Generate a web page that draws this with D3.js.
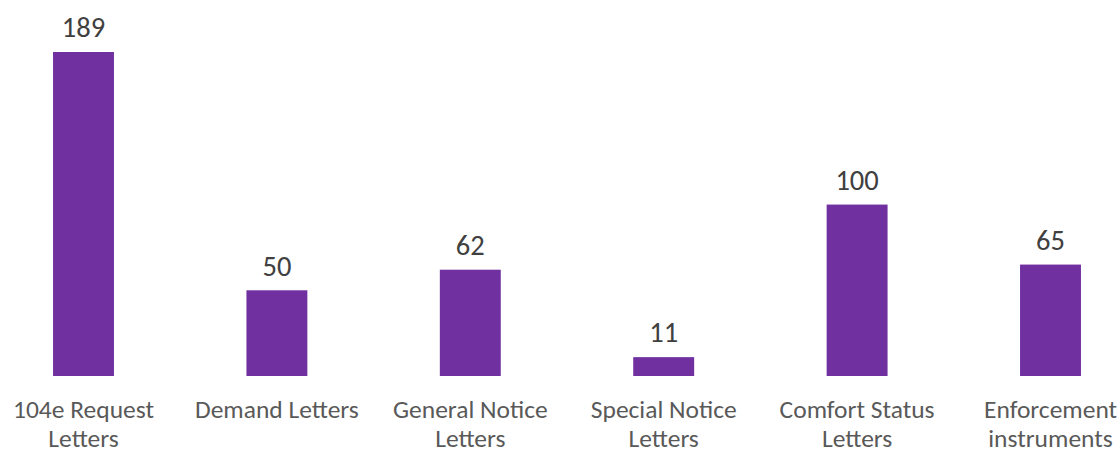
<!DOCTYPE html>
<html>
<head>
<meta charset="utf-8">
<script src="https://cdn.jsdelivr.net/npm/d3@7"></script>
<style>
  html, body { margin: 0; padding: 0; background: #fff; }
  svg { display: block; }
  text { font-family: Carlito, Calibri, "Open Sans", sans-serif; }
</style>
</head>
<body>
<svg id="chart" width="1118" height="451"></svg>
<script>
// Enforcement actions by type
const categories = [
  "104e Request Letters",
  "Demand Letters",
  "General Notice Letters",
  "Special Notice Letters",
  "Comfort Status Letters",
  "Enforcement instruments"
];
// Category labels as drawn, one entry per line
const tickLabels = [
  ["104e Request", "Letters"],
  ["Demand Letters"],
  ["General Notice", "Letters"],
  ["Special Notice", "Letters"],
  ["Comfort Status", "Letters"],
  ["Enforcement", "instruments"]
];
const counts = [189, 50, 62, 11, 100, 65];

const svg = d3.select("#chart");
const baseline = 376;

const x = d3.scaleBand()
  .domain(categories)
  .range([-13.2, 1147.2])
  .paddingInner(0.685)
  .paddingOuter(0.3425);

const y = d3.scaleLinear()
  .domain([0, 189])
  .range([baseline, 52]);

const bars = svg.append("g");
bars.selectAll("rect")
  .data(categories)
  .join("rect")
  .attr("x", d => x(d))
  .attr("width", x.bandwidth())
  .attr("y", (d, i) => y(counts[i]))
  .attr("height", (d, i) => baseline - y(counts[i]))
  .attr("fill", "#7030A0");

// Value labels above each bar
bars.selectAll("text.value")
  .data(categories)
  .join("text")
  .attr("class", "value")
  .attr("x", d => x(d) + x.bandwidth() / 2)
  .attr("y", (d, i) => y(counts[i]) - 14.7)
  .attr("text-anchor", "middle")
  .attr("font-size", 28.5)
  .attr("fill", "#404040")
  .text((d, i) => counts[i]);

// Category axis without line or ticks
const axis = svg.append("g")
  .attr("transform", `translate(0,${baseline})`)
  .call(d3.axisBottom(x).tickSize(0).tickFormat(""));
axis.select(".domain").remove();

axis.selectAll(".tick").each(function(d, i) {
  const t = d3.select(this).append("text")
    .attr("text-anchor", "middle")
    .attr("font-size", 25.5)
    .attr("fill", "#595959");
  tickLabels[i].forEach((line, j) => {
    t.append("tspan")
      .attr("x", 0)
      .attr("y", 41.7 + j * 29.6)
      .text(line);
  });
});
</script>
</body>
</html>
